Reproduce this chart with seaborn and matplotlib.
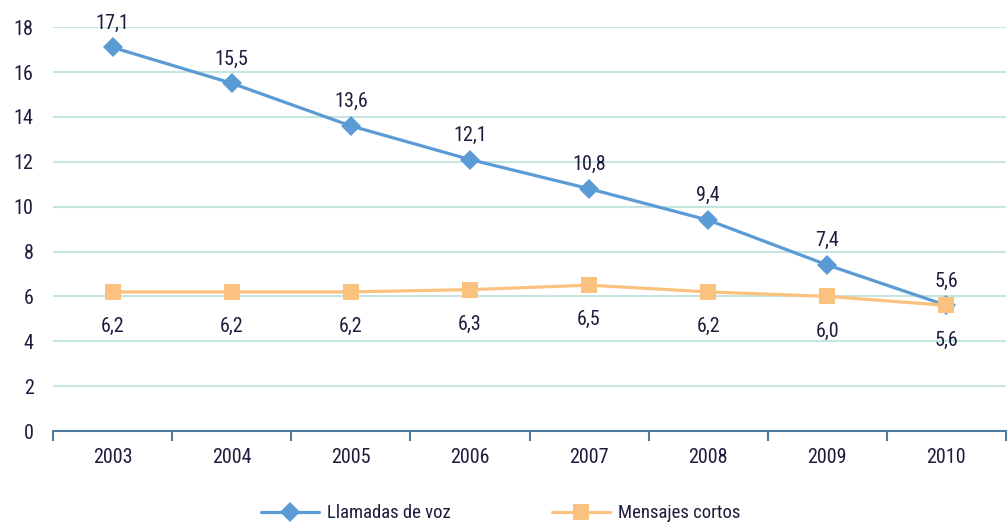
import matplotlib
matplotlib.use("Agg")
import matplotlib.pyplot as plt
from matplotlib import font_manager
import seaborn as sns
import pandas as pd
from matplotlib.lines import Line2D

# Data
years = ["2003", "2004", "2005", "2006", "2007", "2008", "2009", "2010"]
llamadas_voz = [17.1, 15.5, 13.6, 12.1, 10.8, 9.4, 7.4, 5.6]
mensajes_cortos = [6.2, 6.2, 6.2, 6.3, 6.5, 6.2, 6.0, 5.6]
y_ticks = [0, 2, 4, 6, 8, 10, 12, 14, 16, 18]

series_names = ["Llamadas de voz", "Mensajes cortos"]
colors = {"Llamadas de voz": "#5b9bd5", "Mensajes cortos": "#fbc27f"}
markers = {"Llamadas de voz": "D", "Mensajes cortos": "s"}
text_color = "#1c1c3c"


def pick_narrow_font():
    """Return a FontProperties for a narrow sans face if one is installed."""
    preferred = ["Liberation Sans Narrow", "Roboto Condensed",
                 "DejaVu Sans Condensed", "Open Sans Condensed", "Noto Sans Condensed"]
    entries = font_manager.fontManager.ttflist
    for fam in preferred:
        for e in entries:
            if e.name == fam and e.weight in (400, "normal", "regular") and e.style == "normal":
                return font_manager.FontProperties(fname=e.fname)
    for e in entries:
        if (e.stretch in ("condensed", "semi-condensed", "extra-condensed")
                or "Narrow" in e.name or "Condensed" in e.name
                or "Condensed" in e.fname or "Narrow" in e.fname):
            if e.style == "normal" and e.weight in (400, "normal", "regular"):
                return font_manager.FontProperties(fname=e.fname)
    return font_manager.FontProperties(family="DejaVu Sans")


sns.set_theme(style="white")
plt.rcParams["font.family"] = ["DejaVu Sans"]
narrow = pick_narrow_font()


def fp(size):
    p = narrow.copy()
    p.set_size(size)
    return p


df = pd.DataFrame({
    "pos": list(range(len(years))) * 2,
    "valor": llamadas_voz + mensajes_cortos,
    "serie": [series_names[0]] * len(years) + [series_names[1]] * len(years),
})

fig = plt.figure(figsize=(10.08, 5.22), dpi=100)
ax = fig.add_axes([0.0526, 0.1743, 0.9454, 0.7737])

for name, msize in zip(series_names, [10, 12]):
    sub = df[df["serie"] == name]
    sns.lineplot(data=sub, x="pos", y="valor", ax=ax, color=colors[name],
                 marker=markers[name], markersize=msize, markeredgewidth=0,
                 linewidth=2.3, legend=False, zorder=3)

# Value labels
for i, v in enumerate(llamadas_voz):
    ax.annotate(f"{v:.1f}".replace(".", ","), (i, v), xytext=(0, 17.5),
                textcoords="offset points", ha="center", va="center",
                fontproperties=fp(14.5), color=text_color)
for i, v in enumerate(mensajes_cortos):
    ax.annotate(f"{v:.1f}".replace(".", ","), (i, v), xytext=(0, -25),
                textcoords="offset points", ha="center", va="center",
                fontproperties=fp(14.5), color=text_color)

ax.set_xlim(-0.5, len(years) - 0.5)
ax.set_ylim(0, 18)
ax.set_yticks(y_ticks)
ax.set_yticklabels([str(t) for t in y_ticks], fontproperties=fp(14.5), color=text_color)
ax.yaxis.grid(True, color="#c6e4e0", linewidth=1.5)
ax.set_axisbelow(True)

# Category labels centred, tick marks at category boundaries
ax.set_xticks(range(len(years)))
ax.set_xticklabels(years, fontproperties=fp(14.5), color=text_color)
ax.set_xticks([i - 0.5 for i in range(len(years) + 1)], minor=True)
ax.tick_params(axis="x", which="major", length=0, pad=12)
ax.tick_params(axis="x", which="minor", length=7, width=1.5, color="#4f7aa0",
               direction="out", bottom=True)
ax.tick_params(axis="y", length=0, pad=14)
ax.set_xlabel("")
ax.set_ylabel("")

for side in ["left", "right", "top"]:
    ax.spines[side].set_visible(False)
ax.spines["bottom"].set_color("#4f7aa0")
ax.spines["bottom"].set_linewidth(1.5)

handles = [
    Line2D([0], [0], color=colors[n], marker=markers[n], markersize=ms,
           markeredgewidth=0, linewidth=2.3)
    for n, ms in zip(series_names, [10, 12])
]
leg = fig.legend(handles, series_names, loc="center", bbox_to_anchor=(0.4966, 0.017),
                 ncol=2, frameon=False, prop=fp(13.5), handlelength=3.1,
                 columnspacing=5.4, handletextpad=0.4)
for t in leg.get_texts():
    t.set_color(text_color)

fig.savefig("out.png", dpi=100)
